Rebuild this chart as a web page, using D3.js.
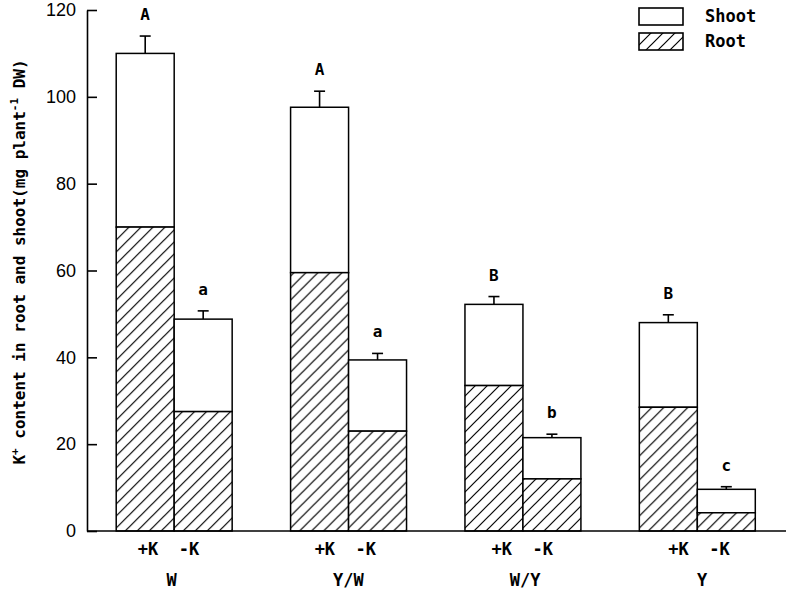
<!DOCTYPE html>
<html>
<head>
<meta charset="utf-8">
<script src="https://cdn.jsdelivr.net/npm/d3@7"></script>
<style>
  body { margin: 0; background: #fff; }
  svg { display: block; }
</style>
</head>
<body>
<script>
  const groups = ['W', 'Y/W', 'W/Y', 'Y'];
  const treatments = ['+K', '-K'];
  // values in order W+K, W-K, Y/W+K, Y/W-K, W/Y+K, W/Y-K, Y+K, Y-K
  const rootValues = [70, 27.5, 59.5, 23, 33.5, 12, 28.5, 4.2];
  const shootValues = [40, 21.3, 38.1, 16.4, 18.7, 9.5, 19.5, 5.4];
  const errValues = [4, 1.9, 3.7, 1.5, 1.8, 0.8, 1.8, 0.6];
  const letters = ['A', 'a', 'A', 'a', 'B', 'b', 'B', 'c'];
  const yTicks = [0, 20, 40, 60, 80, 100, 120];

  const w = 787;
  const h = 593;
  const mono = '"DejaVu Sans Mono", monospace';

  const data = [];
  groups.forEach((g, gi) => {
    treatments.forEach((t, ti) => {
      const i = gi * 2 + ti;
      data.push({
        group: g, treat: t,
        root: rootValues[i],
        total: rootValues[i] + shootValues[i],
        err: errValues[i],
        letter: letters[i]
      });
    });
  });

  const svg = d3.select('body').append('svg')
    .attr('width', w)
    .attr('height', h);

  const defs = svg.append('defs');
  const pat = defs.append('pattern')
    .attr('id', 'hatch')
    .attr('patternUnits', 'userSpaceOnUse')
    .attr('width', 12)
    .attr('height', 12);
  pat.append('rect').attr('width', 12).attr('height', 12).attr('fill', '#fff');
  pat.append('path')
    .attr('d', 'M0,12 L12,0 M-3,3 L3,-3 M9,15 L15,9')
    .attr('stroke', '#000')
    .attr('stroke-width', 1.2);

  const y = d3.scaleLinear().domain([0, 120]).range([531, 10]);

  const pi = 0.335;
  const x0 = d3.scaleBand().domain(groups).range([87, 784.5])
    .paddingInner(pi).paddingOuter(pi / 2);
  const x1 = d3.scaleBand().domain(treatments).range([0, x0.bandwidth()]);

  const bars = svg.append('g').selectAll('g')
    .data(data)
    .enter()
    .append('g')
    .attr('transform', d => 'translate(' + (x0(d.group) + x1(d.treat)) + ',0)');

  // error bars (upward only)
  bars.append('line')
    .attr('x1', x1.bandwidth() / 2).attr('x2', x1.bandwidth() / 2)
    .attr('y1', d => y(d.total)).attr('y2', d => y(d.total + d.err))
    .attr('stroke', '#000').attr('stroke-width', 1.6);
  bars.append('line')
    .attr('x1', x1.bandwidth() / 2 - 5.5).attr('x2', x1.bandwidth() / 2 + 5.5)
    .attr('y1', d => y(d.total + d.err)).attr('y2', d => y(d.total + d.err))
    .attr('stroke', '#000').attr('stroke-width', 1.6);

  // shoot part
  bars.append('rect')
    .attr('x', 0)
    .attr('y', d => y(d.total))
    .attr('width', x1.bandwidth())
    .attr('height', d => y(d.root) - y(d.total))
    .attr('fill', '#fff')
    .attr('stroke', '#000')
    .attr('stroke-width', 1.5);

  // root part
  bars.append('rect')
    .attr('x', 0)
    .attr('y', d => y(d.root))
    .attr('width', x1.bandwidth())
    .attr('height', d => y(0) - y(d.root))
    .attr('fill', 'url(#hatch)')
    .attr('stroke', '#000')
    .attr('stroke-width', 1.5);

  // significance letters
  bars.append('text')
    .attr('x', x1.bandwidth() / 2)
    .attr('y', d => y(d.total + d.err) - 16)
    .attr('text-anchor', 'middle')
    .attr('font-family', mono)
    .attr('font-weight', 'bold')
    .attr('font-size', 16)
    .text(d => d.letter);

  // y axis
  const yAxis = d3.axisLeft(y)
    .tickValues(yTicks)
    .tickSizeInner(-10)
    .tickSizeOuter(0)
    .tickPadding(11);
  const gy = svg.append('g')
    .attr('transform', 'translate(87,0)')
    .call(yAxis);
  gy.select('.domain').attr('stroke-width', 1.6);
  gy.selectAll('.tick line').attr('stroke-width', 1.6);
  gy.selectAll('.tick text')
    .attr('font-family', '"Liberation Sans", Arial, sans-serif')
    .attr('font-size', 18)
    .attr('fill', '#000');

  // x baseline
  svg.append('line')
    .attr('x1', 87).attr('x2', 786)
    .attr('y1', y(0)).attr('y2', y(0))
    .attr('stroke', '#000').attr('stroke-width', 1.6);

  // x labels
  const xl = d3.scalePoint().domain(groups).range([171, 701.5]);
  const xAxisTreat = d3.axisBottom(xl).tickSize(0).tickPadding(0)
    .tickFormat(() => treatments.join('  '));
  const gt = svg.append('g')
    .attr('transform', 'translate(-3,' + 543 + ')')
    .call(xAxisTreat);
  const xAxisGroup = d3.axisBottom(xl).tickSize(0).tickPadding(0);
  const gg = svg.append('g')
    .attr('transform', 'translate(0,' + 574 + ')')
    .call(xAxisGroup);
  [gt, gg].forEach(g => {
    g.select('.domain').remove();
    g.selectAll('.tick text')
      .attr('font-family', mono)
      .attr('font-weight', 'bold')
      .attr('font-size', 17)
      .attr('fill', '#000')
      .style('white-space', 'pre');
  });

  // y label
  svg.append('text')
    .attr('transform', 'translate(25,262) rotate(-90)')
    .attr('text-anchor', 'middle')
    .attr('font-family', mono)
    .attr('font-weight', 'bold')
    .attr('font-size', 16)
    .call(t => {
      t.append('tspan').text('K');
      t.append('tspan').attr('dy', -7).attr('font-size', 11).text('+');
      t.append('tspan').attr('dy', 7).text(' content in root and shoot(mg plant');
      t.append('tspan').attr('dy', -7).attr('font-size', 11).text('-1');
      t.append('tspan').attr('dy', 7).text(' DW)');
    });

  // legend
  const legend = svg.append('g').attr('transform', 'translate(639,8)');
  const legendItems = [
    { name: 'Shoot', fill: '#fff' },
    { name: 'Root', fill: 'url(#hatch)' }
  ];
  const li = legend.selectAll('g')
    .data(legendItems)
    .enter()
    .append('g')
    .attr('transform', (d, i) => 'translate(0,' + i * 25 + ')');
  li.append('rect')
    .attr('width', 44).attr('height', 17)
    .attr('fill', d => d.fill)
    .attr('stroke', '#000').attr('stroke-width', 1.6);
  li.append('text')
    .attr('x', 66).attr('y', 14)
    .attr('font-family', mono)
    .attr('font-weight', 'bold')
    .attr('font-size', 17)
    .text(d => d.name);
</script>
</body>
</html>
